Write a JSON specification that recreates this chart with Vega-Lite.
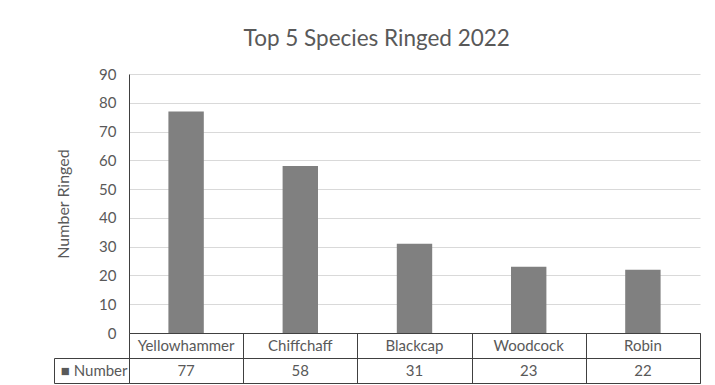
{
  "$schema": "https://vega.github.io/schema/vega-lite/v6.json",
  "background": "white",
  "padding": {"left": 53, "top": 27, "right": 14, "bottom": 0},
  "title": {"text": "Top 5 Species Ringed 2022", "anchor": "middle", "fontSize": 22.5, "fontWeight": "normal", "color": "#595959", "offset": 17},
  "data": {
    "values": [
      {"species": "Yellowhammer", "count": 77},
      {"species": "Chiffchaff", "count": 58},
      {"species": "Blackcap", "count": 31},
      {"species": "Woodcock", "count": 23},
      {"species": "Robin", "count": 22}
    ]
  },
  "spacing": 0,
  "bounds": "flush",
  "vconcat": [
    {
      "width": 571,
      "height": 259,
      "view": {"stroke": null},
      "mark": {"type": "bar", "color": "#808080", "width": {"band": 0.31}},
      "encoding": {
        "x": {"field": "species", "type": "nominal", "sort": null, "scale": {"paddingInner": 0, "paddingOuter": 0}, "axis": null},
        "y": {
          "field": "count", "type": "quantitative",
          "scale": {"domain": [0, 90]},
          "axis": {"title": "Number Ringed", "values": [0, 10, 20, 30, 40, 50, 60, 70, 80, 90], "ticks": false, "labelPadding": 13, "titlePadding": 27, "domainColor": "#404040", "gridColor": "#d9d9d9"}
        }
      }
    },
    {
      "width": 571,
      "height": 25,
      "view": {"stroke": "#404040"},
      "mark": {"type": "text", "fontSize": 15, "color": "#595959"},
      "encoding": {
        "x": {"field": "species", "type": "nominal", "sort": null, "scale": {"paddingInner": 0, "paddingOuter": 0},
          "axis": {"title": null, "labels": false, "ticks": false, "domain": false, "grid": true, "tickBand": "extent", "gridColor": "#404040", "gridOpacity": 1}},
        "text": {"field": "species"}
      }
    },
    {
      "width": 571,
      "height": 25,
      "view": {"stroke": "#404040"},
      "layer": [
        {
          "mark": {"type": "text", "fontSize": 15, "color": "#595959"},
          "encoding": {
            "x": {"field": "species", "type": "nominal", "sort": null, "scale": {"paddingInner": 0, "paddingOuter": 0},
              "axis": {"title": null, "labels": false, "ticks": false, "domain": false, "grid": true, "tickBand": "extent", "gridColor": "#404040", "gridOpacity": 1}},
            "y": {"datum": "■ Number", "type": "nominal",
              "axis": {"title": null, "domain": false, "ticks": true, "tickBand": "extent", "tickSize": 75, "tickColor": "#404040", "labelPadding": -73, "labelColor": "#595959", "labelFontSize": 15}},
            "text": {"field": "count"}
          }
        },
        {
          "mark": {"type": "text", "opacity": 0},
          "encoding": {
            "y": {"datum": "edge", "type": "nominal",
              "axis": {"orient": "left", "offset": 75, "title": null, "labels": false, "ticks": false, "domain": true, "domainColor": "#404040"}},
            "text": {"value": ""}
          }
        }
      ],
      "resolve": {"scale": {"y": "independent"}, "axis": {"y": "independent"}}
    }
  ],
  "config": {
    "font": "Lato",
    "axis": {"labelColor": "#595959", "labelFontSize": 15, "titleColor": "#595959", "titleFontSize": 16, "titleFontWeight": "normal"}
  }
}
